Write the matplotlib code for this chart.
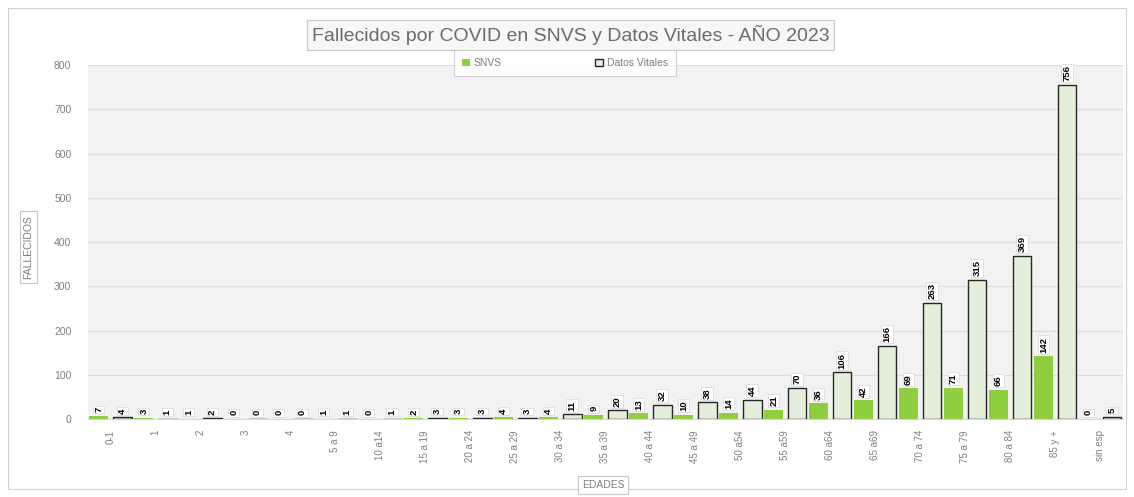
import numpy as np
import matplotlib.pyplot as plt
from matplotlib.patches import Rectangle

# Age groups and counts
edades = ["0-1", "1", "2", "3", "4", "5 a 9", "10 a14", "15 a 19", "20 a 24",
          "25 a 29", "30 a 34", "35 a 39", "40 a 44", "45 a 49", "50 a54",
          "55 a59", "60 a64", "65 a69", "70 a 74", "75 a 79", "80 a 84",
          "85 y +", "sin esp"]
snvs = [7, 3, 1, 0, 0, 1, 0, 2, 3, 4, 4, 9, 13, 10, 14, 21, 36, 42, 69, 71, 66, 142, 0]
datos_vitales = [4, 1, 2, 0, 0, 1, 1, 3, 3, 3, 11, 20, 32, 38, 44, 70, 106, 166, 263, 315, 369, 756, 5]

GREEN = "#8fce3f"
DV_FILL = "#e3efda"
GRAY_TXT = "#7f7f7f"

plt.rcParams['font.family'] = ['Liberation Sans', 'DejaVu Sans']

fig = plt.figure(figsize=(11.34, 4.97), dpi=100)
ax = fig.add_axes([0.0776, 0.157, 0.9125, 0.712])

# outer chart border
fig.patches.append(Rectangle((0.007, 0.016), 0.986, 0.968, transform=fig.transFigure,
                             fill=False, edgecolor="#d0d0d0", linewidth=0.8))

x = np.arange(len(edades))
w = 0.42
b1 = ax.bar(x - 0.26, snvs, width=w, color=GREEN, label="SNVS", zorder=3)
b2 = ax.bar(x + 0.26, datos_vitales, width=w, color=DV_FILL, edgecolor="#262626",
            linewidth=1.0, label="Datos Vitales", zorder=3)

box = dict(boxstyle="square,pad=0.12", facecolor="white", edgecolor="#d8d8d8", linewidth=0.5)
for bars, vals in ((b1, snvs), (b2, datos_vitales)):
    for r, v in zip(bars, vals):
        ax.text(r.get_x() + r.get_width() / 2, v + 8, str(v), rotation=90,
                ha="center", va="bottom", fontsize=6.8, fontweight="bold",
                color="black", bbox=box, zorder=4)

ax.set_xlim(-0.5, len(edades) - 0.5)
ax.set_ylim(0, 800)
ax.set_yticks(range(0, 801, 100))
ax.set_facecolor("#f2f2f2")
ax.grid(axis="y", color="#dcdcdc", linewidth=0.8, zorder=0)
ax.set_axisbelow(True)
for s in ax.spines.values():
    s.set_visible(False)
ax.spines["bottom"].set_visible(True)
ax.spines["bottom"].set_color("#d9d9d9")

ax.set_xticks(x)
ax.set_xticklabels(edades, rotation=90, fontsize=7, color=GRAY_TXT)
ax.tick_params(axis="both", length=0, pad=8)
ax.tick_params(axis="y", labelsize=7.5, labelcolor=GRAY_TXT, pad=12)

lbl_box = dict(boxstyle="square,pad=0.35", facecolor="white", edgecolor="#c8c8c8", linewidth=0.8)
fig.text(0.025, 0.503, "FALLECIDOS", rotation=90, ha="center", va="center",
         fontsize=7.5, color=GRAY_TXT, bbox=lbl_box)
fig.text(0.532, 0.024, "EDADES", ha="center", va="center",
         fontsize=7.5, color=GRAY_TXT, bbox=lbl_box)

title_box = dict(boxstyle="square,pad=0.25", facecolor="#f7f7f7", edgecolor="#c8c8c8", linewidth=0.8)
fig.text(0.503, 0.929, "Fallecidos por COVID en SNVS y Datos Vitales - AÑO 2023",
         ha="center", va="center", fontsize=14, color="#6b6b6b", bbox=title_box)

leg = fig.legend(handles=[b1, b2], loc="center", bbox_to_anchor=(0.498, 0.873), ncol=2,
                 fontsize=7.5, frameon=True, fancybox=False, edgecolor="#c8c8c8",
                 handlelength=0.8, handleheight=0.8, columnspacing=9.0,
                 borderpad=0.75, borderaxespad=0, handletextpad=0.3)
leg.get_frame().set_linewidth(0.8)
for t in leg.get_texts():
    t.set_color(GRAY_TXT)

fig.savefig("out.png", dpi=100)
